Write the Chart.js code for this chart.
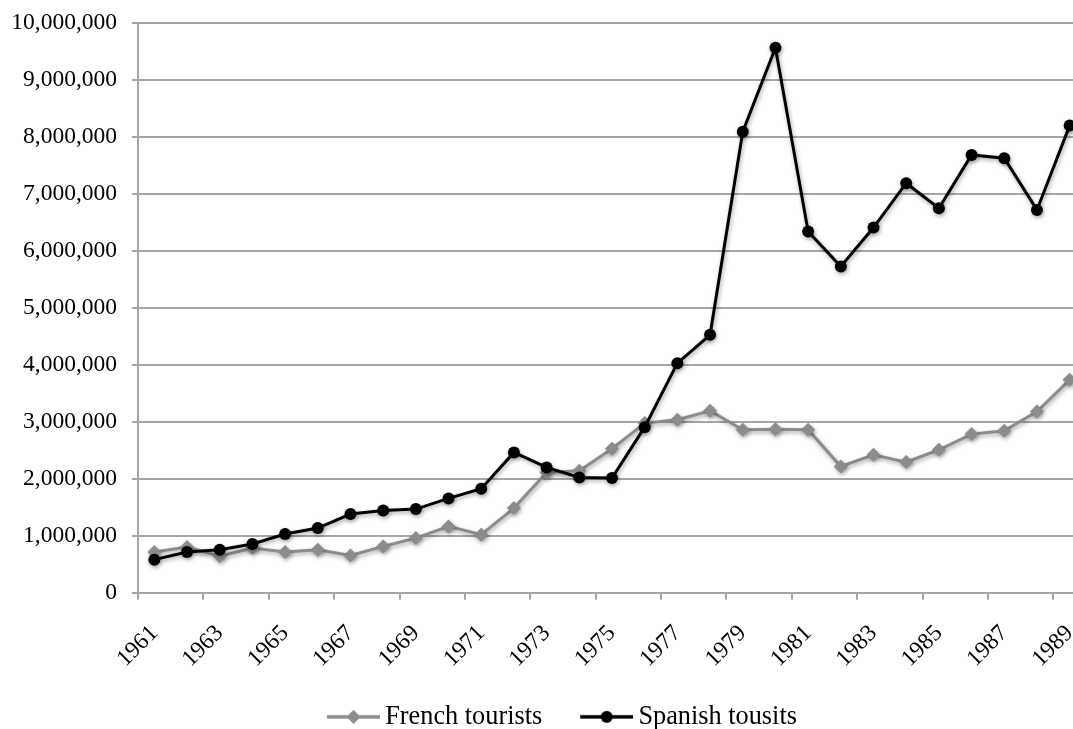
<!DOCTYPE html>
<html><head><meta charset="utf-8">
<script src="https://cdn.jsdelivr.net/npm/chart.js@4/dist/chart.umd.min.js"></script>
<style>
html,body{margin:0;padding:0;background:#fff;overflow:hidden;width:1073px;height:729px}
#wrap{position:absolute;left:0;top:0;width:1086px;height:729px}
</style>
</head><body><div id="wrap"><canvas id="c" width="1086" height="729"></canvas></div>
<script>
const years = ['1961','1962','1963','1964','1965','1966','1967','1968','1969','1970',
  '1971','1972','1973','1974','1975','1976','1977','1978','1979','1980',
  '1981','1982','1983','1984','1985','1986','1987','1988','1989'];
const frenchTourists = [714000, 800000, 640000, 784000, 714000, 754000, 655000, 813000, 959000, 1164000,
  1018000, 1485000, 2111000, 2140000, 2526000, 2977000, 3035000, 3193000, 2860000, 2871000,
  2860000, 2216000, 2421000, 2292000, 2509000, 2784000, 2842000, 3181000, 3737000];
const spanishTourists = [580000, 714000, 754000, 854000, 1029000, 1135000, 1380000, 1444000, 1468000, 1655000,
  1825000, 2462000, 2199000, 2023000, 2012000, 2906000, 4029000, 4526000, 8093000, 9567000,
  6339000, 5725000, 6409000, 7188000, 6749000, 7684000, 7626000, 6719000, 8199000];
const seriesNames = ['French tourists', 'Spanish tousits'];
const yTicks = [0, 1000000, 2000000, 3000000, 4000000, 5000000, 6000000, 7000000, 8000000, 9000000, 10000000];

const GRAY = '#8c8c8c';
const BLACK = '#000000';
const GRID = '#a6a6a6';
const FONT = "'Liberation Serif', 'Times New Roman', serif";

// legend swatch: a short line with the series marker, drawn right of the box centre
function legendImage(color, style) {
  const c = document.createElement('canvas');
  c.width = 99; c.height = 16;
  const g = c.getContext('2d');
  const x0 = 46, x1 = 99, cx = (x0 + x1) / 2, cy = 8;
  g.strokeStyle = color; g.lineWidth = 3.5;
  g.beginPath(); g.moveTo(x0, cy); g.lineTo(x1, cy); g.stroke();
  g.fillStyle = color;
  g.beginPath();
  if (style === 'circle') { g.arc(cx, cy, 6, 0, Math.PI * 2); }
  else { g.moveTo(cx, cy - 7); g.lineTo(cx + 7, cy); g.lineTo(cx, cy + 7); g.lineTo(cx - 7, cy); g.closePath(); }
  g.fill();
  return c;
}

const shadowPlugin = {
  id: 'shadow',
  beforeDatasetsDraw(chart) {
    const ctx = chart.ctx;
    ctx.save();
    ctx.shadowColor = 'rgba(0,0,0,0.35)';
    ctx.shadowBlur = 4;
    ctx.shadowOffsetX = 1;
    ctx.shadowOffsetY = 2;
  },
  afterDatasetsDraw(chart) { chart.ctx.restore(); }
};

const chart = new Chart(document.getElementById('c'), {
  type: 'line',
  data: {
    labels: years,
    datasets: [
      { label: seriesNames[1], data: spanishTourists, borderColor: BLACK, backgroundColor: BLACK,
        borderWidth: 3, pointStyle: 'circle', pointRadius: 6, pointHoverRadius: 6, pointBorderWidth: 0, tension: 0, clip: false },
      { label: seriesNames[0], data: frenchTourists, borderColor: GRAY, backgroundColor: GRAY,
        borderWidth: 3, pointStyle: 'rectRot', pointRadius: 7, pointHoverRadius: 7, pointBorderWidth: 0, tension: 0, clip: false }
    ]
  },
  options: {
    responsive: false,
    animation: false,
    devicePixelRatio: 1,
    layout: { autoPadding: false, padding: { left: 0, right: 0, top: 0, bottom: -11 } },
    plugins: {
      tooltip: { enabled: false },
      legend: {
        position: 'bottom',
        labels: {
          usePointStyle: true,
          pointStyleWidth: 83,
          padding: 0,
          color: '#000',
          font: { family: FONT, size: 26.3 },
          generateLabels() {
            return [
              { text: seriesNames[0], pointStyle: legendImage(GRAY, 'diamond'), fillStyle: GRAY, strokeStyle: GRAY, lineWidth: 0, hidden: false, datasetIndex: 1 },
              { text: seriesNames[1], pointStyle: legendImage(BLACK, 'circle'), fillStyle: BLACK, strokeStyle: BLACK, lineWidth: 0, hidden: false, datasetIndex: 0 }
            ];
          }
        }
      }
    },
    scales: {
      x: {
        type: 'category',
        offset: true,
        grid: {
          offset: true,
          drawOnChartArea: false,
          drawTicks: true,
          tickLength: 7,
          lineWidth: 2,
          tickColor: (ctx) => (ctx.index % 2 === 0 ? GRID : 'rgba(0,0,0,0)')
        },
        border: { display: true, color: GRID, width: 2 },
        ticks: {
          autoSkip: false,
          maxRotation: 45,
          minRotation: 45,
          padding: 20,
          color: '#000',
          font: { family: FONT, size: 23.5 },
          callback: (v, i) => (i % 2 === 0 ? years[i] : '')
        },
        afterFit(scale) { scale.height = 111; scale.paddingLeft = 0; scale.paddingRight = 0; }
      },
      y: {
        min: 0,
        max: 10000000,
        afterBuildTicks(scale) { scale.ticks = yTicks.map(v => ({ value: v })); },
        grid: { color: GRID, lineWidth: 2, tickLength: 6, drawTicks: true },
        border: { display: true, color: GRID, width: 2 },
        ticks: {
          padding: 15,
          color: '#000',
          font: { family: FONT, size: 23.5 },
          callback: (v) => Number(v).toLocaleString('en-US')
        },
        afterFit(scale) { scale.width = 138; scale.paddingTop = 23; scale.paddingBottom = 0; }
      }
    }
  },
  plugins: [shadowPlugin]
});
</script>
</body></html>
